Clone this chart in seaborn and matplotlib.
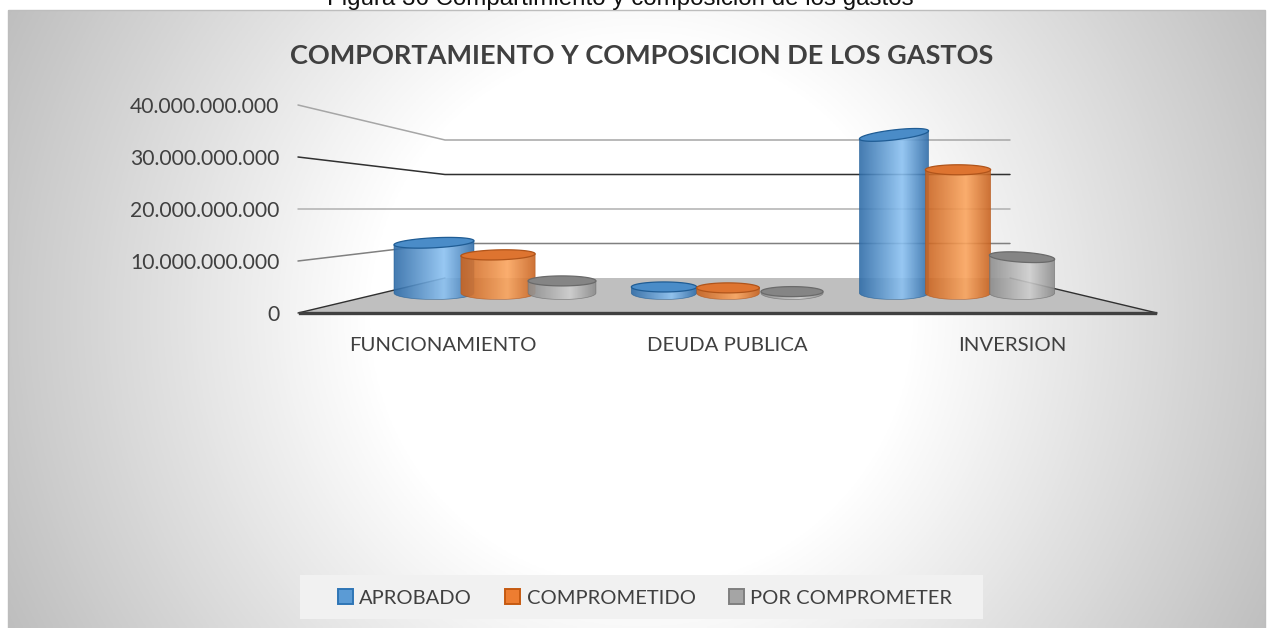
import numpy as np
import pandas as pd
import matplotlib
matplotlib.use('Agg')
import matplotlib.pyplot as plt
import seaborn as sns
from matplotlib.patches import Polygon, Rectangle
from matplotlib.colors import LinearSegmentedColormap

# data
categorias = ['FUNCIONAMIENTO', 'DEUDA PUBLICA', 'INVERSION']
series = ['APROBADO', 'COMPROMETIDO', 'POR COMPROMETER']
aprobado = [10.8e9, 1.3e9, 34.0e9]
comprometido = [8.2e9, 1.1e9, 26.5e9]
por_comprometer = [2.6e9, 0.3e9, 7.7e9]
ticks = [0, 10e9, 20e9, 30e9, 40e9]
tick_labels = ['0', '10.000.000.000', '20.000.000.000', '30.000.000.000', '40.000.000.000']

# estilo: borde, brillo, borde, tapa, contorno
BLUE = ['#2f6ca8', '#8cc2f2', '#2f6ca8', '#4a8cc8', '#1f5c94']
ORANGE = ['#c8621f', '#fba55e', '#c8621f', '#de7430', '#b0541a']
GRAY = ['#8c8c8c', '#cfcfcf', '#8c8c8c', '#858585', '#6a6a6a']
ESTILOS = [BLUE, ORANGE, GRAY]
# perspectiva: las columnas de la izquierda se ven mas anchas
ANCHO = [[1.25, 1.16, 1.06], [1.02, 0.98, 0.97], [1.08, 1.02, 1.02]]
# inclinacion de la tapa en pixeles
TILT = [[2, 1, 0], [0, 0, 0], [4, 0, -2]]
TEXTO = '#404040'
W, H = 1272, 628

df = pd.DataFrame({
    'categoria': categorias * 3,
    'serie': [s for s in series for _ in categorias],
    'valor': aprobado + comprometido + por_comprometer,
})

sns.set_theme(style='white')
plt.rcParams['font.family'] = ['Lato', 'DejaVu Sans']


def px_axes(fig, x0, y0, x1, y1, **kw):
    # ejes ubicados en pixeles de la imagen (y hacia abajo)
    return fig.add_axes([x0 / W, 1 - y1 / H, (x1 - x0) / W, (y1 - y0) / H], **kw)


fig = plt.figure(figsize=(W / 100, H / 100), dpi=100, facecolor='white')

# fondo con degradado radial
ax_bg = fig.add_axes([0, 0, 1, 1], zorder=0)
ax_bg.axis('off')
xx, yy = np.meshgrid(np.arange(8, 1265, 3), np.arange(10, 628, 3))
rr = np.sqrt((xx - 640) ** 2 + (yy - 314) ** 2)
grad = np.clip((rr - 270) / 436, 0, 1)
cmap_bg = LinearSegmentedColormap.from_list('bg', ['#ffffff', '#bebebe'])
ax_bg.imshow(grad, extent=(8, 1265, 628, 10), cmap=cmap_bg, vmin=0, vmax=1,
             aspect='auto', zorder=0)
ax_bg.set_xlim(0, W)
ax_bg.set_ylim(H, 0)
ax_bg.add_patch(Rectangle((8, 10), 1257, 630, facecolor='none', edgecolor='#bdbdbd', lw=1, zorder=0.5))
ax_bg.text(620, 5, 'Figura 36 Compartimiento y composicion de los gastos', ha='center',
           va='baseline', fontsize=17.4, color='#111111', family=['Liberation Sans'])
ax_bg.text(642, 56, 'COMPORTAMIENTO Y COMPOSICION DE LOS GASTOS', ha='center', va='center',
           fontsize=19.5, fontweight='bold', color=TEXTO)

# piso y paredes en perspectiva
ax_bg.add_patch(Polygon([(298, 313), (445, 278), (1010, 278), (1157, 313)], closed=True,
                        facecolor='#bfbfbf', edgecolor='none', zorder=1))
ax_bg.plot([298, 445], [313, 278], color='#303030', lw=1, zorder=1.5)
ax_bg.plot([1010, 1157], [278, 313], color='#303030', lw=1, zorder=1.5)
colores_grid = ['#808080', '#b0b0b0', '#303030', '#a6a6a6']
for v, c in zip(ticks[1:], colores_grid):
    frente = 313 - 52 * v / 1e10
    fondo = 278 - 34.5 * v / 1e10
    ax_bg.plot([298, 445, 1010], [frente, fondo, fondo], color=c, lw=1.1, zorder=1)

# eje de valores y de categorias (plano frontal)
ax = px_axes(fig, 300, 105, 1155, 313, zorder=1)
ax.patch.set_alpha(0)
ax.set_xlim(-0.5, 2.5)
ax.set_ylim(0, 40e9)
ax.set_yticks(ticks)
ax.set_yticklabels(tick_labels, fontsize=15.2, color=TEXTO)
ax.set_xticks(range(3))
ax.set_xticklabels(categorias, fontsize=14.7, color=TEXTO)
ax.tick_params(axis='y', length=0, pad=15)
ax.tick_params(axis='x', length=0, pad=17)
sns.despine(ax=ax, left=True)
ax.spines['bottom'].set_color('#404040')
ax.spines['bottom'].set_linewidth(2.4)

# columnas
ax_b = px_axes(fig, 383, 107, 1073, 293, zorder=2)
ax_b.patch.set_alpha(0)
sns.barplot(data=df, x='categoria', y='valor', hue='serie', order=categorias, hue_order=series,
            palette=['#5b9bd5', '#ed7d31', '#a5a5a5'], width=0.835, gap=0, saturation=1,
            linewidth=0, ax=ax_b)
ax_b.set_xlim(-0.5, 2.5)
ax_b.set_ylim(0, 40e9)
ax_b.axis('off')

px = 1e10 / 46.5  # valor de un pixel
alto_elipse = 13 * px
alto_tapa = 10 * px
for i, cont in enumerate(ax_b.containers):
    cols = ESTILOS[i]
    cmap = LinearSegmentedColormap.from_list('c', [(0, cols[0]), (0.62, cols[1]), (1, cols[2])])
    for j, bar in enumerate(cont):
        z = 3 + i + j * 0.1
        xc = bar.get_x() + bar.get_width() / 2
        ancho = bar.get_width() * ANCHO[j][i]
        alto = bar.get_height()
        bar.set_x(xc - ancho / 2)
        bar.set_width(ancho)
        bar.set_visible(False)

        # cuerpo del cilindro: rectangulo mas media elipse inferior
        t = np.linspace(np.pi, 2 * np.pi, 40)
        xs = xc + ancho / 2 * np.cos(t)
        ys = alto_elipse / 2 * np.sin(t)
        inc = TILT[j][i] * px
        verts = list(zip(xs, ys)) + [(xc + ancho / 2, alto + inc), (xc - ancho / 2, alto - inc)]
        cuerpo = Polygon(verts, closed=True, facecolor='none', edgecolor=cols[4], lw=0.5,
                         alpha=0.7, zorder=z + 0.02, clip_on=False)
        ax_b.add_patch(cuerpo)
        grad_x = np.linspace(0, 1, 128).reshape(1, -1)
        im = ax_b.imshow(grad_x, extent=(xc - ancho / 2, xc + ancho / 2, -alto_elipse / 2, alto + abs(inc)),
                         cmap=cmap, aspect='auto', zorder=z, alpha=0.9)
        im.set_clip_path(cuerpo)
        im.set_clip_box(fig.bbox)

        # tapa
        t = np.linspace(0, 2 * np.pi, 80)
        tapa = np.column_stack([xc + ancho / 2 * np.cos(t),
                                alto + alto_tapa / 2 * np.sin(t) + inc * np.cos(t)])
        ax_b.add_patch(Polygon(tapa, closed=True, facecolor=cols[3], edgecolor=cols[4], lw=0.9,
                               zorder=z + 0.03, clip_on=False))
ax_b.set_xlim(-0.5, 2.5)
ax_b.set_ylim(0, 40e9)

# leyenda
ax_bg.add_patch(Rectangle((300, 575), 683, 44, facecolor='#f1f1f1', edgecolor='none', zorder=1))
handles, labels = ax_b.get_legend_handles_labels()
ax_b.get_legend().remove()
leg = fig.legend(handles, labels, ncol=3, loc='center', bbox_to_anchor=(645 / W, 1 - 598 / H),
                 frameon=False, fontsize=14.5, handlelength=0.75, handleheight=0.75,
                 handletextpad=0.3, columnspacing=1.65, labelcolor=TEXTO)
for h, c in zip(leg.legend_handles, ['#2e75b6', '#c55a11', '#7f7f7f']):
    h.set_edgecolor(c)
    h.set_linewidth(1.4)
    h.set_visible(True)

plt.savefig('out.png', dpi=100)
plt.close()
